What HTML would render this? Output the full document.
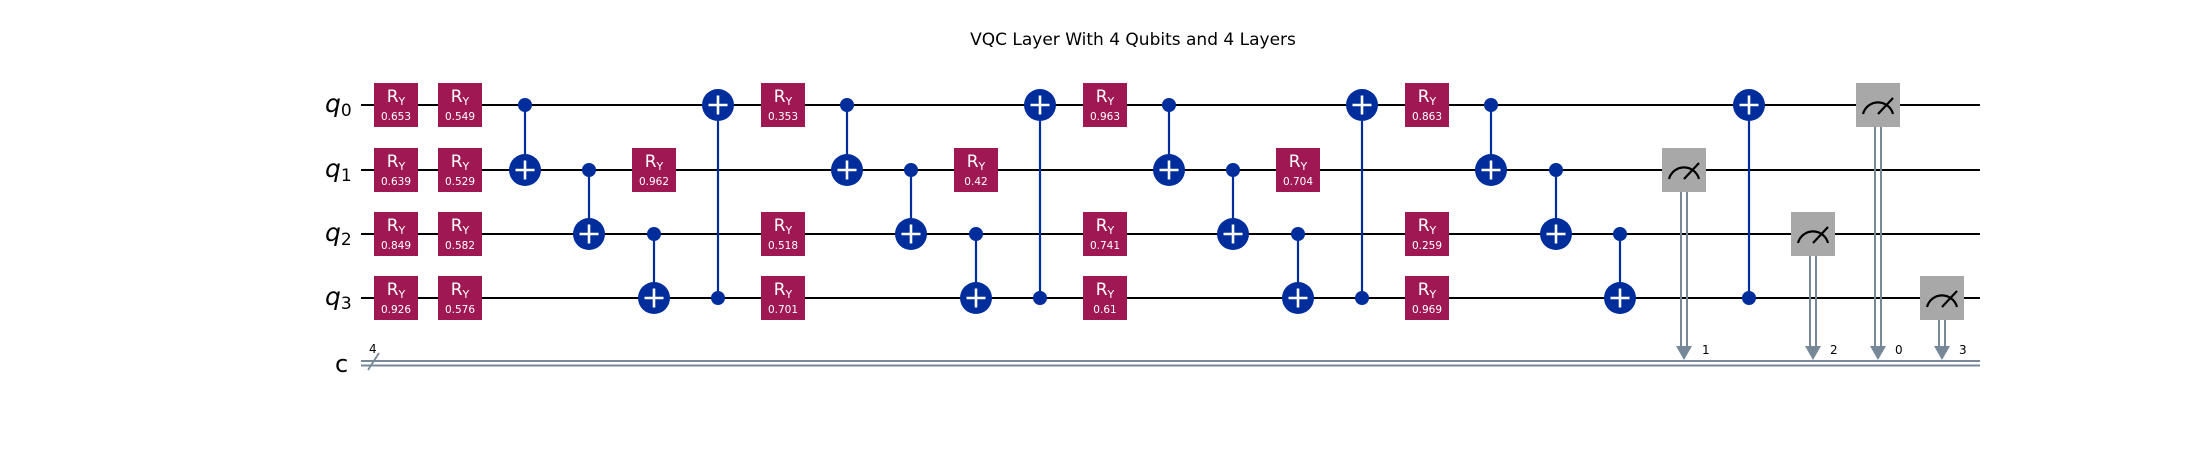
<!DOCTYPE html>
<html><head><meta charset="utf-8"><style>
html,body{margin:0;padding:0;background:#fff;}
svg{display:block;}
text{font-family:"DejaVu Sans","Liberation Sans",sans-serif;}
.ry{fill:#9f1853;}
.rt{fill:#fff;font-size:17px;text-anchor:middle;}
.rv{fill:#fff;font-size:10.5px;text-anchor:middle;}
.w{stroke:#000;stroke-width:2;}
.b{stroke:#002d9c;stroke-width:2.2;fill:none;}
.m{fill:#a8a8a8;}
.cl{stroke:#778899;stroke-width:2;fill:none;}
.ql{font-size:25px;font-style:italic;}
.lbl{font-size:12px;}
</style></head><body>
<svg width="2210" height="451" viewBox="0 0 2210 451" xmlns="http://www.w3.org/2000/svg">
<rect width="2210" height="451" fill="#fff"/>
<text x="1133" y="45" font-size="17" text-anchor="middle">VQC Layer With 4 Qubits and 4 Layers</text>

<line class="w" x1="361" y1="105" x2="1980" y2="105"/>
<line class="w" x1="361" y1="170" x2="1980" y2="170"/>
<line class="w" x1="361" y1="234" x2="1980" y2="234"/>
<line class="w" x1="361" y1="298" x2="1980" y2="298"/>
<line class="cl" x1="361" y1="361" x2="1980" y2="361"/>
<line class="cl" x1="361" y1="365.5" x2="1980" y2="365.5"/>
<line x1="368" y1="370" x2="379" y2="353" stroke="#778899" stroke-width="1.8"/>
<text x="369" y="353" font-size="12">4</text>

<text class="ql" x="325" y="112">q<tspan font-size="17" font-style="normal" dy="4">0</tspan></text>
<text class="ql" x="325" y="177">q<tspan font-size="17" font-style="normal" dy="4">1</tspan></text>
<text class="ql" x="325" y="241">q<tspan font-size="17" font-style="normal" dy="4">2</tspan></text>
<text class="ql" x="325" y="305">q<tspan font-size="17" font-style="normal" dy="4">3</tspan></text>
<text x="335" y="372" font-size="24">c</text>

<defs>
<g id="ry"><rect class="ry" x="-22" y="-22" width="44" height="44"/></g>
<g id="tg"><circle r="16" fill="#002d9c"/><line x1="-9.5" y1="0" x2="9.5" y2="0" stroke="#fff" stroke-width="2.6"/><line x1="0" y1="-9.5" x2="0" y2="9.5" stroke="#fff" stroke-width="2.6"/></g>
<g id="ct"><circle r="7" fill="#002d9c"/></g>
<g id="ms"><rect class="m" x="-22" y="-22" width="44" height="44"/><path d="M-15,9 A15.5,15.5 0 0 1 15,9" fill="none" stroke="#000" stroke-width="2.2"/><line x1="0" y1="9" x2="15" y2="-7" stroke="#000" stroke-width="2.2"/></g>
</defs>

<g>
<use href="#ry" x="396" y="105"/><text class="rt" x="396" y="102">R<tspan font-size="11" dy="3">Y</tspan></text><text class="rv" x="396" y="120">0.653</text>
<use href="#ry" x="396" y="170"/><text class="rt" x="396" y="167">R<tspan font-size="11" dy="3">Y</tspan></text><text class="rv" x="396" y="185">0.639</text>
<use href="#ry" x="396" y="234"/><text class="rt" x="396" y="231">R<tspan font-size="11" dy="3">Y</tspan></text><text class="rv" x="396" y="249">0.849</text>
<use href="#ry" x="396" y="298"/><text class="rt" x="396" y="295">R<tspan font-size="11" dy="3">Y</tspan></text><text class="rv" x="396" y="313">0.926</text>

<use href="#ry" x="460" y="105"/><text class="rt" x="460" y="102">R<tspan font-size="11" dy="3">Y</tspan></text><text class="rv" x="460" y="120">0.549</text>
<use href="#ry" x="460" y="170"/><text class="rt" x="460" y="167">R<tspan font-size="11" dy="3">Y</tspan></text><text class="rv" x="460" y="185">0.529</text>
<use href="#ry" x="460" y="234"/><text class="rt" x="460" y="231">R<tspan font-size="11" dy="3">Y</tspan></text><text class="rv" x="460" y="249">0.582</text>
<use href="#ry" x="460" y="298"/><text class="rt" x="460" y="295">R<tspan font-size="11" dy="3">Y</tspan></text><text class="rv" x="460" y="313">0.576</text>

<use href="#ry" x="654" y="170"/><text class="rt" x="654" y="167">R<tspan font-size="11" dy="3">Y</tspan></text><text class="rv" x="654" y="185">0.962</text>

<use href="#ry" x="783" y="105"/><text class="rt" x="783" y="102">R<tspan font-size="11" dy="3">Y</tspan></text><text class="rv" x="783" y="120">0.353</text>
<use href="#ry" x="783" y="234"/><text class="rt" x="783" y="231">R<tspan font-size="11" dy="3">Y</tspan></text><text class="rv" x="783" y="249">0.518</text>
<use href="#ry" x="783" y="298"/><text class="rt" x="783" y="295">R<tspan font-size="11" dy="3">Y</tspan></text><text class="rv" x="783" y="313">0.701</text>

<use href="#ry" x="976" y="170"/><text class="rt" x="976" y="167">R<tspan font-size="11" dy="3">Y</tspan></text><text class="rv" x="976" y="185">0.42</text>

<use href="#ry" x="1105" y="105"/><text class="rt" x="1105" y="102">R<tspan font-size="11" dy="3">Y</tspan></text><text class="rv" x="1105" y="120">0.963</text>
<use href="#ry" x="1105" y="234"/><text class="rt" x="1105" y="231">R<tspan font-size="11" dy="3">Y</tspan></text><text class="rv" x="1105" y="249">0.741</text>
<use href="#ry" x="1105" y="298"/><text class="rt" x="1105" y="295">R<tspan font-size="11" dy="3">Y</tspan></text><text class="rv" x="1105" y="313">0.61</text>

<use href="#ry" x="1298" y="170"/><text class="rt" x="1298" y="167">R<tspan font-size="11" dy="3">Y</tspan></text><text class="rv" x="1298" y="185">0.704</text>

<use href="#ry" x="1427" y="105"/><text class="rt" x="1427" y="102">R<tspan font-size="11" dy="3">Y</tspan></text><text class="rv" x="1427" y="120">0.863</text>
<use href="#ry" x="1427" y="234"/><text class="rt" x="1427" y="231">R<tspan font-size="11" dy="3">Y</tspan></text><text class="rv" x="1427" y="249">0.259</text>
<use href="#ry" x="1427" y="298"/><text class="rt" x="1427" y="295">R<tspan font-size="11" dy="3">Y</tspan></text><text class="rv" x="1427" y="313">0.969</text>
</g>

<g>
<line class="b" x1="525" y1="105" x2="525" y2="170"/><use href="#ct" x="525" y="105"/><use href="#tg" x="525" y="170"/>
<line class="b" x1="589" y1="170" x2="589" y2="234"/><use href="#ct" x="589" y="170"/><use href="#tg" x="589" y="234"/>
<line class="b" x1="654" y1="234" x2="654" y2="298"/><use href="#ct" x="654" y="234"/><use href="#tg" x="654" y="298"/>
<line class="b" x1="718" y1="105" x2="718" y2="298"/><use href="#ct" x="718" y="298"/><use href="#tg" x="718" y="105"/>
<line class="b" x1="847" y1="105" x2="847" y2="170"/><use href="#ct" x="847" y="105"/><use href="#tg" x="847" y="170"/>
<line class="b" x1="911" y1="170" x2="911" y2="234"/><use href="#ct" x="911" y="170"/><use href="#tg" x="911" y="234"/>
<line class="b" x1="976" y1="234" x2="976" y2="298"/><use href="#ct" x="976" y="234"/><use href="#tg" x="976" y="298"/>
<line class="b" x1="1040" y1="105" x2="1040" y2="298"/><use href="#ct" x="1040" y="298"/><use href="#tg" x="1040" y="105"/>
<line class="b" x1="1169" y1="105" x2="1169" y2="170"/><use href="#ct" x="1169" y="105"/><use href="#tg" x="1169" y="170"/>
<line class="b" x1="1233" y1="170" x2="1233" y2="234"/><use href="#ct" x="1233" y="170"/><use href="#tg" x="1233" y="234"/>
<line class="b" x1="1298" y1="234" x2="1298" y2="298"/><use href="#ct" x="1298" y="234"/><use href="#tg" x="1298" y="298"/>
<line class="b" x1="1362" y1="105" x2="1362" y2="298"/><use href="#ct" x="1362" y="298"/><use href="#tg" x="1362" y="105"/>
<line class="b" x1="1491" y1="105" x2="1491" y2="170"/><use href="#ct" x="1491" y="105"/><use href="#tg" x="1491" y="170"/>
<line class="b" x1="1556" y1="170" x2="1556" y2="234"/><use href="#ct" x="1556" y="170"/><use href="#tg" x="1556" y="234"/>
<line class="b" x1="1620" y1="234" x2="1620" y2="298"/><use href="#ct" x="1620" y="234"/><use href="#tg" x="1620" y="298"/>
<line class="b" x1="1749" y1="105" x2="1749" y2="298"/><use href="#ct" x="1749" y="298"/><use href="#tg" x="1749" y="105"/>
</g>

<g>
<line class="cl" x1="1681" y1="192" x2="1681" y2="348"/><line class="cl" x1="1687" y1="192" x2="1687" y2="348"/>
<polygon points="1676,346 1692,346 1684,360" fill="#778899"/>
<use href="#ms" x="1684" y="170"/>
<text class="lbl" x="1702" y="354">1</text>

<line class="cl" x1="1810" y1="256" x2="1810" y2="348"/><line class="cl" x1="1816" y1="256" x2="1816" y2="348"/>
<polygon points="1805,346 1821,346 1813,360" fill="#778899"/>
<use href="#ms" x="1813" y="234"/>
<text class="lbl" x="1830" y="354">2</text>

<line class="cl" x1="1875" y1="127" x2="1875" y2="348"/><line class="cl" x1="1881" y1="127" x2="1881" y2="348"/>
<polygon points="1870,346 1886,346 1878,360" fill="#778899"/>
<use href="#ms" x="1878" y="105"/>
<text class="lbl" x="1895" y="354">0</text>

<line class="cl" x1="1939" y1="320" x2="1939" y2="348"/><line class="cl" x1="1945" y1="320" x2="1945" y2="348"/>
<polygon points="1934,346 1950,346 1942,360" fill="#778899"/>
<use href="#ms" x="1942" y="298"/>
<text class="lbl" x="1959" y="354">3</text>
</g>
</svg>
</body></html>
